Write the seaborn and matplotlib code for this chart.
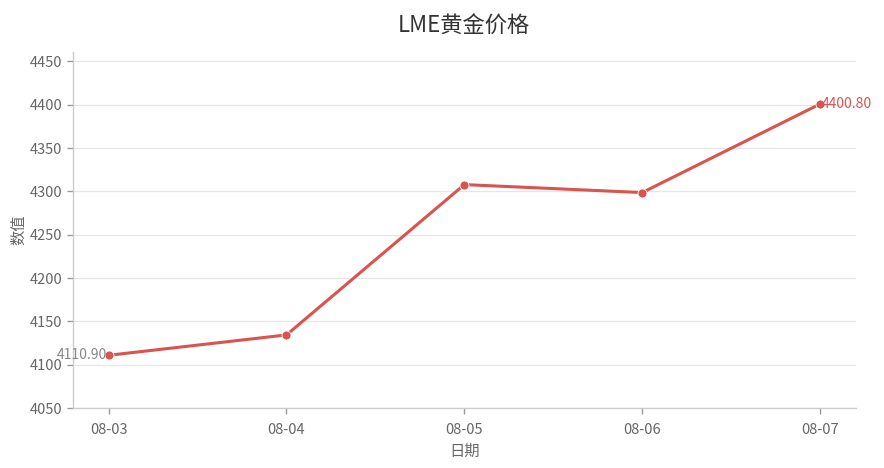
import matplotlib
matplotlib.use("Agg")
import matplotlib.pyplot as plt
import pandas as pd
import seaborn as sns

# LME 黄金价格
DATES = ["08-03", "08-04", "08-05", "08-06", "08-07"]
PRICES = [4110.90, 4134.4, 4307.8, 4298.6, 4400.80]

LINE_COLOR = "#d9534f"
TEXT_GRAY = "#666666"


def main() -> None:
    sns.set_theme(style="white")
    plt.rcParams["font.family"] = ["Noto Sans CJK SC", "DejaVu Sans"]

    df = pd.DataFrame({"日期": DATES, "数值": PRICES})

    fig = plt.figure(figsize=(8.84, 4.68), dpi=100)
    ax = fig.add_axes([0.0826, 0.128, 0.8854, 0.761])

    sns.lineplot(
        data=df, x="日期", y="数值", ax=ax,
        color=LINE_COLOR, linewidth=2.2,
        marker="o", markersize=6.5, markeredgecolor="white", markeredgewidth=0.6,
        sort=False,
    )

    ax.set_xlim(-0.2, len(DATES) - 0.8)
    ax.set_ylim(min(PRICES) - 60, max(PRICES) + 60)
    ax.set_yticks(range(4050, 4451, 50))

    ax.yaxis.grid(True, color="#e6e6e6", linewidth=0.9)
    ax.xaxis.grid(False)
    ax.set_axisbelow(True)

    for side in ("top", "right"):
        ax.spines[side].set_visible(False)
    for side in ("left", "bottom"):
        ax.spines[side].set_color("#cccccc")
        ax.spines[side].set_linewidth(1.0)

    ax.tick_params(axis="both", colors=TEXT_GRAY, labelsize=10.5,
                   length=4, width=1, left=True, bottom=True)
    ax.tick_params(axis="both", color="#999999")
    ax.tick_params(axis="x", pad=7)

    ax.set_xlabel("日期", fontsize=11, color=TEXT_GRAY, labelpad=4)
    ax.set_ylabel("数值", fontsize=11, color=TEXT_GRAY, labelpad=2)
    ax.set_title("LME黄金价格", fontsize=16, color="#333333", pad=14)

    # 首尾数值标注
    ax.annotate(f"{PRICES[0]:.2f}", (0, PRICES[0]), xytext=(-1, 0),
                textcoords="offset points", ha="right", va="center",
                fontsize=10, color="#888888")
    last = len(PRICES) - 1
    ax.annotate(f"{PRICES[last]:.2f}", (last, PRICES[last]), xytext=(1, 0),
                textcoords="offset points", ha="left", va="center",
                fontsize=10, color=LINE_COLOR)

    fig.savefig("out.png", dpi=100)


if __name__ == "__main__":
    main()
